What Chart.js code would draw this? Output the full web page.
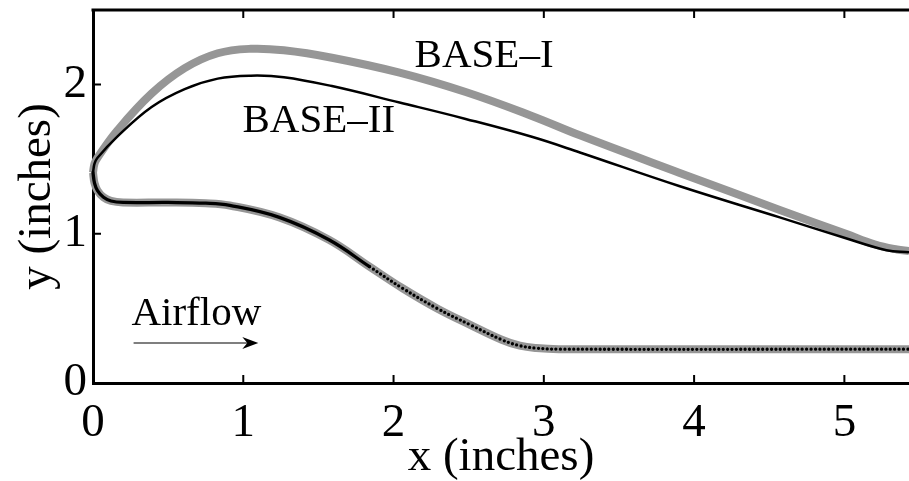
<!DOCTYPE html>
<html>
<head>
<meta charset="utf-8">
<script src="https://cdn.jsdelivr.net/npm/chart.js@4"></script>
<style>
  html, body { margin: 0; padding: 0; background: #fff; }
  #wrap { width: 909px; height: 481px; }
</style>
</head>
<body>
<div id="wrap"><canvas id="nozzleChart" width="909" height="481"></canvas></div>
<script>
// axis ticks
const xTicks = [0, 1, 2, 3, 4, 5];
const yTicks = [0, 1, 2];

// BASE-I contour (thick grey)
const baseIUpperX = [0.0, 0.01, 0.03, 0.16, 0.39, 0.61, 0.83, 1.05, 1.27, 1.59, 2.04, 2.48, 2.92, 3.24, 3.90, 4.57, 5.01, 5.20, 5.35, 5.43];
const baseIUpperY = [1.41, 1.47, 1.51, 1.69, 1.94, 2.11, 2.21, 2.24, 2.23, 2.18, 2.08, 1.95, 1.79, 1.66, 1.41, 1.16, 1.0, 0.93, 0.895, 0.885];
const baseILowerX = [0.0, 0.01, 0.03, 0.07, 0.12, 0.20, 0.50, 0.75, 0.91, 1.24, 1.57, 1.84, 2.06, 2.29, 2.51, 2.72, 2.84, 2.95, 3.10, 5.43];
const baseILowerY = [1.41, 1.34, 1.29, 1.245, 1.22, 1.21, 1.21, 1.205, 1.19, 1.11, 0.96, 0.78, 0.635, 0.50, 0.39, 0.29, 0.25, 0.234, 0.227, 0.227];

// BASE-II contour (thin black)
const baseIIUpperX = [0.0, 0.01, 0.03, 0.16, 0.39, 0.61, 0.83, 1.05, 1.27, 1.59, 2.04, 2.48, 2.92, 3.24, 3.90, 4.57, 5.01, 5.28, 5.43];
const baseIIUpperY = [1.41, 1.47, 1.51, 1.65, 1.85, 1.97, 2.04, 2.06, 2.05, 1.99, 1.88, 1.77, 1.65, 1.545, 1.32, 1.11, 0.97, 0.89, 0.876];
const baseIILowerX = [0.0, 0.01, 0.03, 0.07, 0.12, 0.20, 0.50, 0.75, 0.91, 1.24, 1.57, 1.84, 2.06, 2.29, 2.51, 2.72, 2.84, 2.95, 3.10, 5.43];
const baseIILowerY = [1.41, 1.34, 1.29, 1.245, 1.22, 1.21, 1.21, 1.205, 1.19, 1.11, 0.96, 0.78, 0.635, 0.50, 0.39, 0.29, 0.25, 0.234, 0.227, 0.227];

// text labels placed in data coordinates
const labelBaseI = { text: 'BASE\u2013I', x: 2.14, y: 2.12 };
const labelBaseII = { text: 'BASE\u2013II', x: 0.995, y: 1.68 };
const labelAirflow = { text: 'Airflow', x: 0.256, y: 0.388 };
const arrowAirflow = { x0: 0.27, x1: 1.10, y: 0.268 };

const toPoints = (xs, ys) => xs.map((x, i) => ({ x: x, y: ys[i] }));

const GREY = 'rgb(150,150,150)';
const SERIF = '"Liberation Serif", "Times New Roman", serif';

// top frame, inward ticks, text labels and arrow
const decorations = {
    id: 'decorations',
    afterDraw(chart) {
        const { ctx, chartArea: a, scales: { x, y } } = chart;
        ctx.save();
        ctx.strokeStyle = '#000';
        ctx.lineWidth = 3;
        ctx.beginPath();
        ctx.moveTo(a.left - 1.5, a.top);
        ctx.lineTo(a.right + 2, a.top);
        ctx.stroke();

        ctx.lineWidth = 2;
        ctx.beginPath();
        xTicks.forEach(v => {
            if (v === 0) return;
            const px = x.getPixelForValue(v);
            ctx.moveTo(px, a.bottom);
            ctx.lineTo(px, a.bottom - 8);
            ctx.moveTo(px, a.top);
            ctx.lineTo(px, a.top + 8);
        });
        yTicks.forEach(v => {
            if (v === 0) return;
            const py = y.getPixelForValue(v);
            ctx.moveTo(a.left, py);
            ctx.lineTo(a.left + 8, py);
        });
        ctx.stroke();

        ctx.fillStyle = '#000';
        ctx.font = '41px ' + SERIF;
        ctx.textAlign = 'left';
        ctx.textBaseline = 'alphabetic';
        [labelBaseI, labelBaseII, labelAirflow].forEach(l => {
            ctx.fillText(l.text, x.getPixelForValue(l.x), y.getPixelForValue(l.y));
        });

        const ax0 = x.getPixelForValue(arrowAirflow.x0);
        const ax1 = x.getPixelForValue(arrowAirflow.x1);
        const ay = y.getPixelForValue(arrowAirflow.y);
        ctx.lineWidth = 1.2;
        ctx.beginPath();
        ctx.moveTo(ax0, ay);
        ctx.lineTo(ax1 - 6, ay);
        ctx.stroke();
        ctx.beginPath();
        ctx.moveTo(ax1, ay);
        ctx.lineTo(ax1 - 16, ay - 6);
        ctx.lineTo(ax1 - 11, ay);
        ctx.lineTo(ax1 - 16, ay + 6);
        ctx.closePath();
        ctx.fill();
        ctx.restore();
    }
};

new Chart(document.getElementById('nozzleChart').getContext('2d'), {
    type: 'scatter',
    data: {
        datasets: [
            {
                label: 'BASE-I upper',
                data: toPoints(baseIUpperX, baseIUpperY),
                showLine: true,
                borderColor: GREY,
                borderWidth: 8,
                order: 2
            },
            {
                label: 'BASE-I lower',
                data: toPoints(baseILowerX, baseILowerY),
                showLine: true,
                borderColor: GREY,
                borderWidth: 8,
                order: 2
            },
            {
                label: 'BASE-II upper',
                data: toPoints(baseIIUpperX, baseIIUpperY),
                showLine: true,
                borderColor: '#000',
                borderWidth: 2.5,
                order: 1
            },
            {
                label: 'BASE-II lower',
                data: toPoints(baseIILowerX, baseIILowerY),
                showLine: true,
                borderColor: '#000',
                borderWidth: 3.3,
                borderCapStyle: 'round',
                segment: {
                    // dotted once the wall is past the throat region
                    borderDash: ctx => ctx.p0.parsed.x >= 1.8 ? [0, 4.4] : []
                },
                order: 1
            }
        ]
    },
    options: {
        responsive: false,
        animation: false,
        clip: 10,
        datasets: {
            scatter: {
                pointRadius: 0,
                pointHoverRadius: 0,
                tension: 0.4,
                backgroundColor: 'transparent'
            }
        },
        layout: { padding: { top: 10, right: 0, left: 0, bottom: 0 } },
        plugins: {
            legend: { display: false },
            tooltip: { enabled: false }
        },
        scales: {
            x: {
                type: 'linear',
                min: 0,
                max: 5.43,
                afterBuildTicks: s => { s.ticks = xTicks.map(v => ({ value: v })); },
                afterFit: s => { s.height = 98; s.paddingLeft = 0; s.paddingRight = 0; },
                grid: { drawOnChartArea: false, drawTicks: false },
                border: { display: true, color: '#000', width: 3 },
                ticks: {
                    color: '#000',
                    padding: 12,
                    font: { family: SERIF, size: 47 }
                },
                title: {
                    display: true,
                    text: 'x (inches)',
                    color: '#000',
                    padding: 0,
                    font: { family: SERIF, size: 47, lineHeight: 1 }
                }
            },
            y: {
                type: 'linear',
                min: 0,
                max: 2.5,
                afterBuildTicks: s => { s.ticks = yTicks.map(v => ({ value: v })); },
                afterFit: s => { s.width = 93; s.paddingTop = 0; s.paddingBottom = 0; },
                grid: { drawOnChartArea: false, drawTicks: false },
                border: { display: true, color: '#000', width: 3 },
                ticks: {
                    color: '#000',
                    padding: 6,
                    font: { family: SERIF, size: 47 }
                },
                title: {
                    display: true,
                    text: 'y (inches)',
                    color: '#000',
                    padding: { top: 14, bottom: 0 },
                    font: { family: SERIF, size: 47, lineHeight: 1 }
                }
            }
        }
    },
    plugins: [decorations]
});
</script>
</body>
</html>
